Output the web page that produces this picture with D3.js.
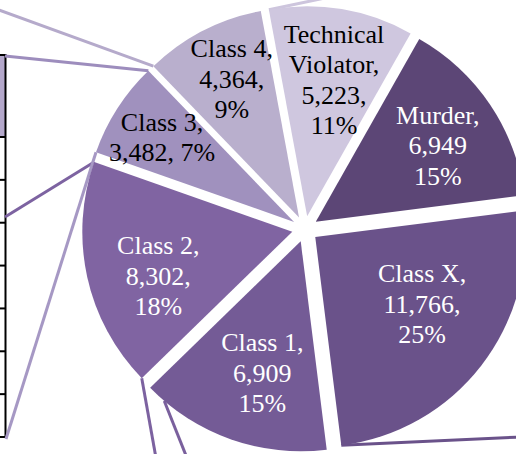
<!DOCTYPE html>
<html>
<head>
<meta charset="utf-8">
<script src="https://cdn.jsdelivr.net/npm/d3@7"></script>
<style>
  body { margin: 0; background: #fff; }
  svg { display: block; overflow: hidden; }
</style>
</head>
<body>
<div id="my_pie"></div>
<script>
// offenders by class (clockwise from the top)
const categories = ["Technical Violator", "Murder", "Class X", "Class 1", "Class 2", "Class 3", "Class 4"];
const values = [5223, 6949, 11766, 6909, 8302, 3482, 4364];

// label text per slice: {n} name, {v} value, {p} percent
const labelLines = [
  ["Technical", "Violator,", "{v},", "{p}"],
  ["{n},", "{v}", "{p}"],
  ["{n},", "{v},", "{p}"],
  ["{n},", "{v}", "{p}"],
  ["{n},", "{v},", "{p}"],
  ["{n},", "{v}, {p}"],
  ["{n},", "{v},", "{p}"]
];

// styles
const sliceColors = ["#cfc7df", "#5c4676", "#6a528a", "#745b96", "#8064a2", "#a091be", "#b9afcd"];
const textColors = ["#000", "#fff", "#fff", "#fff", "#fff", "#000", "#000"];

// label placement: distance from pie centre and nudge (deg) off the slice bisector
const labelRadius = [152, 157, 139, 150, 154, 170, 167];
const labelNudge = [1.5, 1.6, -5.2, -2.8, -5.3, 0, 1.2];

// leader lines: slice, where on the outer arc (0 = start, 1 = end), far end
const leaders = [
  { slice: 6, at: 0, to: [-4, 9], color: "#b5aacb" },
  { slice: 5, at: 1, to: [5, 56], color: "#9d8dbd" },
  { slice: 4, at: 1, to: [5, 217], color: "#7d63a1" },
  { slice: 5, at: 0, to: [6, 439], color: "#a698c4" },
  { slice: 4, at: 0, to: [156, 458], color: "#7c62a0" },
  { slice: 3, at: 0.9, to: [187, 458], color: "#7a609d" },
  { slice: 2, at: 1, to: [520, 437], color: "#6a528a" },
  { slice: 0, at: 0, to: [325, -2], color: "#cdc5dd" }
];

const width = 516, height = 454;
const cx = 305, cy = 229, radius = 210, explode = 13;
const startDeg = -10.5;
const fontSize = 26, lineHeight = 30.5;

const svg = d3.select("#my_pie")
  .append("svg")
  .attr("width", width)
  .attr("height", height);

const total = d3.sum(values);
const fmtValue = d3.format(",");
const fmtPct = d3.format(".0%");
const rad = deg => deg * Math.PI / 180;

const pie = d3.pie()
  .sort(null)
  .value(d => d.value)
  .startAngle(rad(startDeg))
  .endAngle(rad(startDeg) + 2 * Math.PI);

const slices = pie(categories.map((c, i) => ({ name: c, value: values[i], i: i })));

const arc = d3.arc().innerRadius(0).outerRadius(radius);

const polar = (a, r) => [r * Math.sin(a), -r * Math.cos(a)];
const mid = d => (d.startAngle + d.endAngle) / 2;
const shift = d => polar(mid(d), explode);

// table fragment on the left
const tableTop = 55, headerBottom = 137, tableBottom = 437, rowCount = 7;
const rowY = d3.scaleLinear().domain([0, rowCount]).range([headerBottom, tableBottom]);
const table = svg.append("g");
table.append("rect")
  .attr("x", 0)
  .attr("y", tableTop)
  .attr("width", 5)
  .attr("height", headerBottom - tableTop)
  .attr("fill", "#b4a8cb");
table.selectAll("line.row")
  .data([tableTop].concat(d3.range(rowCount + 1).map(k => rowY(k))))
  .join("line")
  .attr("class", "row")
  .attr("x1", 0)
  .attr("x2", 6)
  .attr("y1", d => d)
  .attr("y2", d => d)
  .attr("stroke", "#000")
  .attr("stroke-width", 2);
table.append("line")
  .attr("x1", 5.5)
  .attr("x2", 5.5)
  .attr("y1", tableTop - 1)
  .attr("y2", tableBottom + 1)
  .attr("stroke", "#000")
  .attr("stroke-width", 2);

// leader lines, under the slices
const corner = (d, t) => {
  const a = d.startAngle + t * (d.endAngle - d.startAngle);
  const [ox, oy] = shift(d);
  const [px, py] = polar(a, radius);
  return [cx + ox + px, cy + oy + py];
};

svg.append("g")
  .selectAll("line")
  .data(leaders)
  .join("line")
  .attr("x1", d => corner(slices[d.slice], d.at)[0])
  .attr("y1", d => corner(slices[d.slice], d.at)[1])
  .attr("x2", d => d.to[0])
  .attr("y2", d => d.to[1])
  .attr("stroke", d => d.color)
  .attr("stroke-width", 3);

// exploded slices
svg.append("g")
  .attr("transform", `translate(${cx}, ${cy})`)
  .selectAll("path")
  .data(slices)
  .join("path")
  .attr("transform", d => `translate(${shift(d)[0]}, ${shift(d)[1]})`)
  .attr("d", arc)
  .attr("fill", d => sliceColors[d.data.i]);

// labels
const fill = (tpl, d) => tpl
  .replace("{n}", d.data.name)
  .replace("{v}", fmtValue(d.data.value))
  .replace("{p}", fmtPct(d.data.value / total));

const labels = svg.append("g")
  .selectAll("text")
  .data(slices)
  .join("text")
  .attr("text-anchor", "middle")
  .style("font-family", "'Liberation Serif', 'DejaVu Serif', serif")
  .style("font-size", fontSize + "px")
  .attr("fill", d => textColors[d.data.i])
  .each(function (d) {
    const i = d.data.i;
    const [lx, ly] = polar(mid(d) + rad(labelNudge[i]), labelRadius[i]);
    const lines = labelLines[i];
    const y0 = cy + ly - (lines.length - 1) / 2 * lineHeight + fontSize * 0.34;
    d3.select(this).selectAll("tspan")
      .data(lines)
      .join("tspan")
      .attr("x", cx + lx)
      .attr("y", (t, k) => y0 + k * lineHeight)
      .text(t => fill(t, d));
  });
</script>
</body>
</html>
